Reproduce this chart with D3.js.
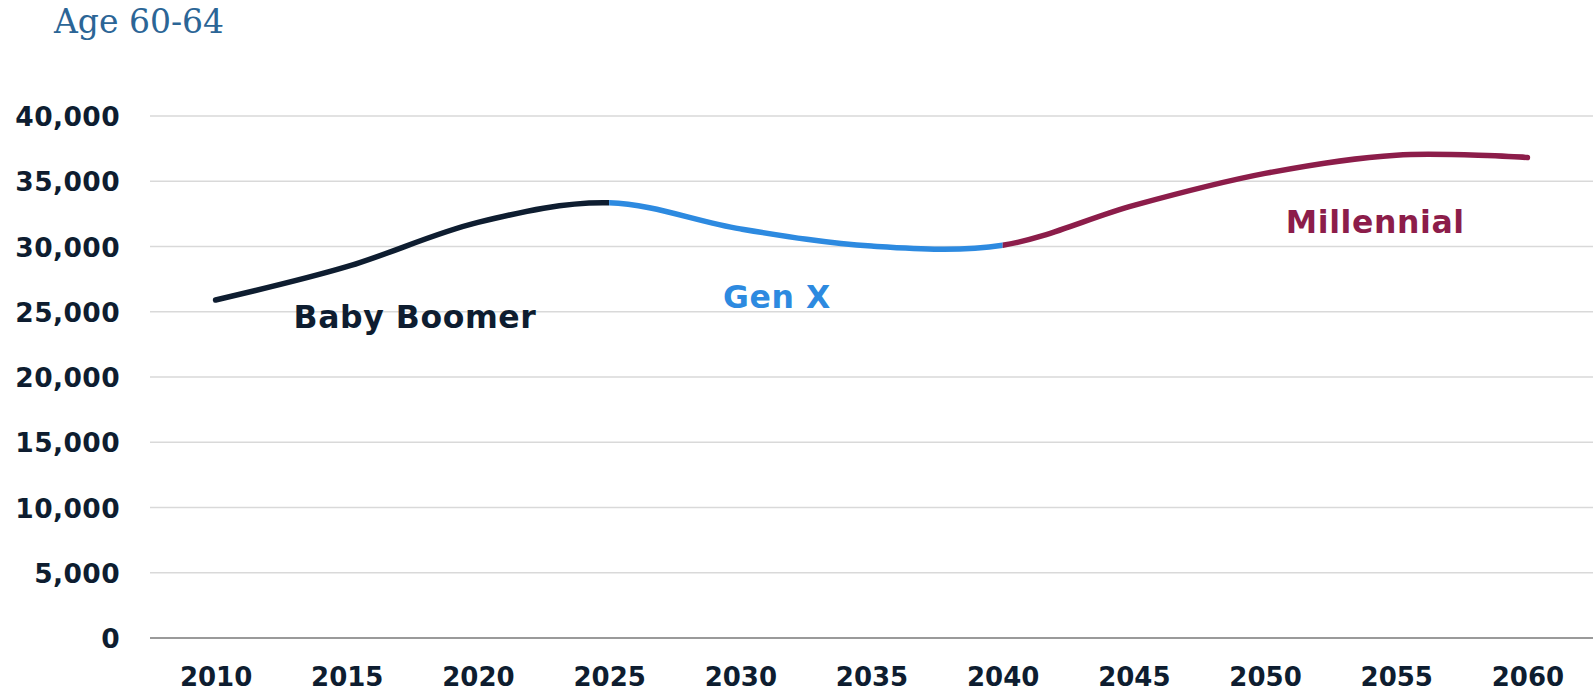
<!DOCTYPE html>
<html>
<head>
<meta charset="utf-8">
<script src="https://cdn.jsdelivr.net/npm/d3@7"></script>
<style>
  body { margin: 0; background: #fff; }
  svg { display: block; }
</style>
</head>
<body>
<script>
(function() {

	// data
	var years = [2010, 2015, 2020, 2025, 2030, 2035, 2040, 2045, 2050, 2055, 2060];
	var population = [25900, 28450, 31850, 33350, 31350, 30030, 30100, 33150, 35600, 37000, 36820];
	var yTicks = [0, 5000, 10000, 15000, 20000, 25000, 30000, 35000, 40000];
	var generations = ['Baby Boomer', 'Gen X', 'Millennial'];
	var genFrom = [2010, 2025, 2040];
	var genTo = [2025, 2040, 2060];

	var genColors = ['#0e1d30', '#2d8ae0', '#8c1d4a'];
	// where the generation names sit, in chart units (year, value)
	var labelAt = [[2017.6, 23750], [2031.4, 25300], [2054.2, 31000]];

	var width = 1595, height = 692;
	var left = 150, right = 1593, top = 116, bottom = 638;
	var ink = '#0e1d30';

	var svg = d3.select('body').append('svg')
		.attr('width', width)
		.attr('height', height);

	var x = d3.scalePoint().domain(years).range([left, right]).padding(0.5);
	var y = d3.scaleLinear().domain([0, 40000]).range([bottom, top]);

	// Title
	svg.append('text')
		.attr('x', 54).attr('y', 33)
		.attr('font-family', 'DejaVu Serif')
		.attr('font-size', 33)
		.attr('fill', '#2b6596')
		.text('Age 60-64');

	// Grid
	var grid = svg.append('g');
	grid.selectAll('line')
		.data(yTicks)
		.enter()
		.append('line')
		.attr('x1', left).attr('x2', right)
		.attr('y1', function(d) { return y(d); })
		.attr('y2', function(d) { return y(d); })
		.attr('stroke', function(d) { return d === 0 ? '#9a9a9a' : '#d9d9d9'; })
		.attr('stroke-width', function(d) { return d === 0 ? 2 : 1.5; });

	// Y axis
	var yAxis = svg.append('g')
		.attr('transform', 'translate(120,0)')
		.call(d3.axisLeft(y).tickValues(yTicks).tickSize(0).tickPadding(0)
			.tickFormat(d3.format(',')));
	yAxis.select('.domain').remove();
	yAxis.selectAll('text')
		.attr('font-family', 'DejaVu Sans')
		.attr('font-weight', 'bold')
		.attr('font-size', 26.5)
		.attr('letter-spacing', 0.4)
		.attr('fill', ink)
		.attr('dy', '0.36em');

	// X axis
	var xAxis = svg.append('g')
		.attr('transform', 'translate(0,' + bottom + ')')
		.call(d3.axisBottom(x).tickSize(0).tickPadding(0));
	xAxis.select('.domain').remove();
	xAxis.selectAll('text')
		.attr('font-family', 'DejaVu Sans')
		.attr('font-weight', 'bold')
		.attr('font-size', 26)
		.attr('fill', ink)
		.attr('dy', 0)
		.attr('y', 48);

	// Line, one path clipped per generation so the curve stays continuous
	var points = years.map(function(yr, i) { return [yr, population[i]]; });
	var line = d3.line()
		.x(function(d) { return x(d[0]); })
		.y(function(d) { return y(d[1]); })
		.curve(d3.curveCardinal);

	var defs = svg.append('defs');
	for (var i = 0; i < generations.length; ++i) {
		var x0 = i === 0 ? 0 : x(genFrom[i]);
		var x1 = i === generations.length - 1 ? width : x(genTo[i]);
		defs.append('clipPath').attr('id', 'gen' + i)
			.append('rect')
			.attr('x', x0).attr('y', 0)
			.attr('width', x1 - x0).attr('height', height);

		svg.append('path')
			.datum(points)
			.attr('d', line)
			.attr('clip-path', 'url(#gen' + i + ')')
			.attr('fill', 'none')
			.attr('stroke', genColors[i])
			.attr('stroke-width', 5.5)
			.attr('stroke-linecap', 'round');
	}

	// Generation names
	svg.append('g').selectAll('text')
		.data(generations)
		.enter()
		.append('text')
		.attr('x', function(d, i) { return x(2010) + (x(2015) - x(2010)) / 5 * (labelAt[i][0] - 2010); })
		.attr('y', function(d, i) { return y(labelAt[i][1]); })
		.attr('text-anchor', 'middle')
		.attr('font-family', 'DejaVu Sans')
		.attr('font-weight', 'bold')
		.attr('font-size', 31.5)
		.attr('letter-spacing', 0.6)
		.attr('fill', function(d, i) { return genColors[i]; })
		.text(function(d) { return d; });

})();
</script>
</body>
</html>
